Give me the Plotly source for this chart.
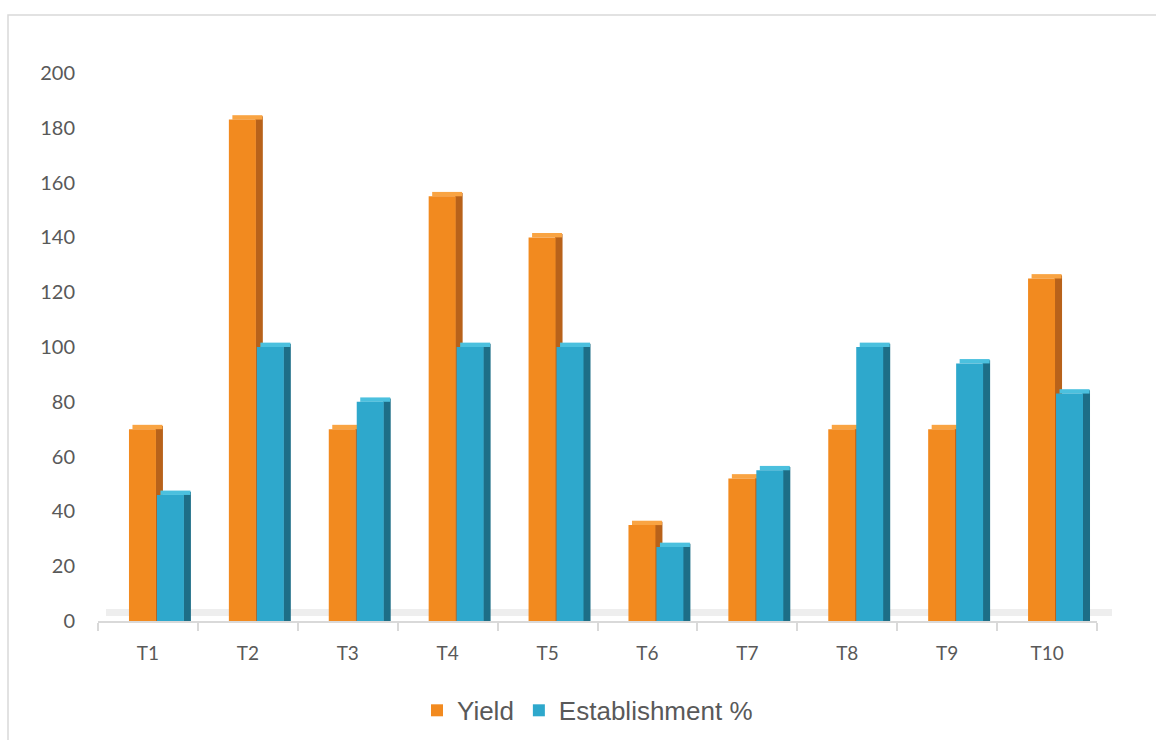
import plotly.graph_objects as go

categories = ["T1", "T2", "T3", "T4", "T5", "T6", "T7", "T8", "T9", "T10"]
yield_vals = [70, 183, 70, 155, 140, 35, 52, 70, 70, 125]
establishment_vals = [46, 100, 80, 100, 100, 27, 55, 100, 94, 83]
y_ticks = [0, 20, 40, 60, 80, 100, 120, 140, 160, 180, 200]

n = len(categories)
fig = go.Figure()

def add_bar3d(vals, name, front, side, top, off):
    # side face (slightly raised to mimic depth)
    fig.add_trace(go.Bar(x=categories, y=[v + 1.2 for v in vals], base=[0.0] * n,
                         width=[0.075] * n, offset=[off + 0.265] * n,
                         marker=dict(color=side, line=dict(width=0)),
                         showlegend=False, hoverinfo="skip"))
    # top face
    fig.add_trace(go.Bar(x=categories, y=[1.6] * n, base=vals,
                         width=[0.30] * n, offset=[off + 0.035] * n,
                         marker=dict(color=top, line=dict(width=0)),
                         showlegend=False, hoverinfo="skip"))
    # front face
    fig.add_trace(go.Bar(x=categories, y=vals, name=name,
                         width=[0.27] * n, offset=[off] * n,
                         marker=dict(color=front, line=dict(width=0))))

add_bar3d(yield_vals, "Yield", "#F28A1F", "#B8621A", "#F9A443", -0.19)
add_bar3d(establishment_vals, "Establishment %", "#2EA8CC", "#1D6E87", "#4BC0DE", 0.09)

L, R, T, B = 98, 59, 73, 119
W, H = 1156, 740
pw, ph = W - L - R, H - T - B

def px_x(p):
    return (p - L) / pw

def px_y(p):
    return (H - B - p) / ph

shapes = [
    # outer chart frame
    dict(type="rect", xref="paper", yref="paper",
         x0=px_x(8), x1=px_x(1170), y0=px_y(760), y1=px_y(15),
         line=dict(color="#D9D9D9", width=1.5), fillcolor="rgba(0,0,0,0)", layer="below"),
    # floor shadow
    dict(type="rect", xref="paper", yref="paper",
         x0=px_x(106), x1=px_x(1112), y0=px_y(616), y1=px_y(609),
         line=dict(width=0), fillcolor="#EEEEEE", layer="below"),
]

fig.update_layout(
    width=W, height=H,
    margin=dict(l=L, r=R, t=T, b=B, autoexpand=False),
    paper_bgcolor="white", plot_bgcolor="white",
    barmode="overlay",
    shapes=shapes,
    font=dict(family="Lato, 'Open Sans', sans-serif", color="#595959"),
    xaxis=dict(type="category", showline=True, linecolor="#D9D9D9", linewidth=2,
               ticks="outside", tickson="boundaries", ticklen=8, tickcolor="#D9D9D9",
               tickwidth=1.5, showgrid=False, tickfont=dict(size=19, color="#595959"),
               ticklabelstandoff=14, range=[-0.5, n - 0.5], automargin=False),
    yaxis=dict(range=[0, 200], tickvals=y_ticks, showgrid=False, zeroline=False,
               showline=False, ticks="", ticklabelstandoff=22, automargin=False,
               tickfont=dict(size=20, color="#595959")),
    legend=dict(orientation="h", x=0.49, xanchor="center",
                yref="container", y=0.04, yanchor="middle",
                font=dict(family="Liberation Sans, Arial, sans-serif", size=26, color="#595959"),
                itemwidth=30, traceorder="normal"),
)

fig.write_html("out.html")
